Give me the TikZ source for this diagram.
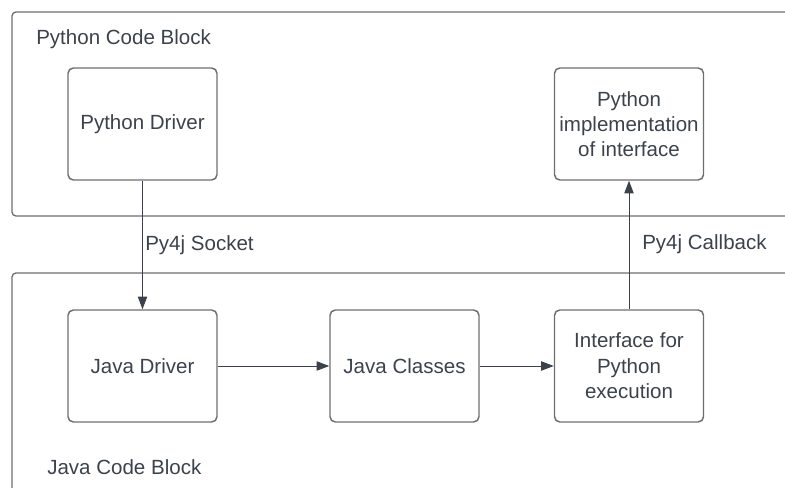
\documentclass[tikz,border=0pt]{standalone}
\usepackage{fontspec}
\setmainfont{Liberation Sans}
\usetikzlibrary{arrows.meta}
\definecolor{edge}{HTML}{6E6E6E}
\definecolor{ink}{HTML}{3B424C}
\begin{document}
\begin{tikzpicture}[x=0.75pt,y=-0.75pt,
  block/.style={draw=edge, line width=1pt, rounded corners=3pt},
  stepbox/.style={draw=edge, line width=1.1pt, rounded corners=4pt,
    minimum width=111.75pt, minimum height=84pt, align=center, text=ink,
    font=\fontsize{15.4}{19}\selectfont, inner sep=0pt},
  tag/.style={text=ink, font=\fontsize{15.4}{19}\selectfont, inner sep=0pt, anchor=base west},
  link/.style={draw=ink, line width=0.75pt, -{Triangle[length=9.5pt,width=7pt]}}]
\useasboundingbox (0,0) rectangle (785,488);
\clip (0,0) rectangle (785,488);

% container blocks
\draw[block] (12,12) rectangle (810,216);
\draw[block] (12,273) rectangle (810,520);
\node[tag] (pyblock) at (36,45) {Python Code Block};
\node[tag] (jblock) at (47,474) {Java Code Block};

% components
\node[stepbox] (pydrv) at (142.5,124) {Python Driver};
\node[stepbox] (pyimpl) at (629,124) {Python\\implementation\\of interface};
\node[stepbox] (jdrv) at (142.5,366) {Java Driver};
\node[stepbox] (jcls) at (404.5,366) {Java Classes};
\node[stepbox] (iface) at (629,366) {Interface for\\Python\\execution};

% connectors
\draw[link] (pydrv.south) -- (jdrv.north);
\draw[link] (iface.north) -- (pyimpl.south);
\draw[link] (jdrv) -- (jcls);
\draw[link] (jcls) -- (iface);

\node[tag] (sock) at (145,251) {Py4j Socket};
\node[tag] (cb) at (642,250) {Py4j Callback};
\end{tikzpicture}
\end{document}
